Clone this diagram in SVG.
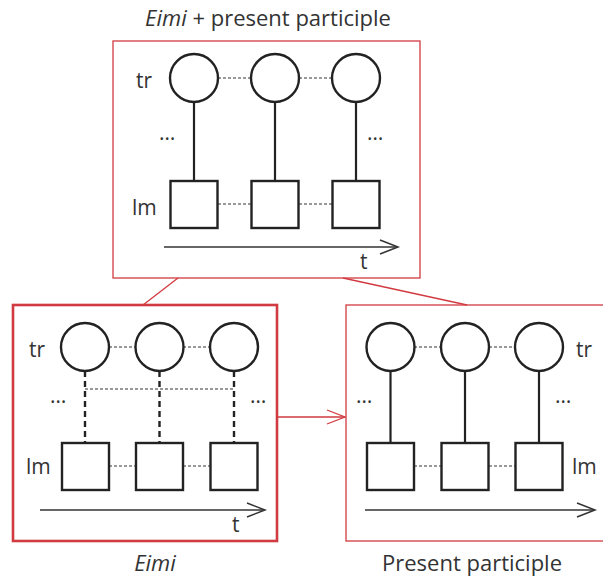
<svg xmlns="http://www.w3.org/2000/svg" width="603" height="578" viewBox="0 0 603 578">
<defs>
<style>
.txt{font-family:"Open Sans","Noto Sans",sans-serif;fill:#333;}
.lbl{font-size:21px;}
.cap{font-size:22px;}
.c{fill:#fff;stroke:#222;stroke-width:2.4;}
.sq{fill:#fff;stroke:#222;stroke-width:2.4;}
.dot{stroke:#333;stroke-width:1;stroke-dasharray:3 2;fill:none;}
.solid{stroke:#222;stroke-width:2.2;fill:none;}
.dash{stroke:#222;stroke-width:2.4;stroke-dasharray:6 4;fill:none;}
.axis{stroke:#333;stroke-width:1.5;fill:none;}
.red{stroke:#d13a40;fill:none;}
</style>
</defs>
<text class="txt cap" x="268" y="26" text-anchor="middle"><tspan font-style="italic">Eimi</tspan> + present participle</text>
<text class="txt cap" x="155" y="571" text-anchor="middle" font-style="italic">Eimi</text>
<text class="txt cap" x="472" y="571" text-anchor="middle">Present participle</text>

<g id="connectors">
<line class="red" x1="178" y1="278" x2="143" y2="305" stroke-width="1.3"/>
<line class="red" x1="343" y1="278" x2="467" y2="305" stroke-width="1.3"/>
<line class="red" x1="277" y1="417" x2="345" y2="417" stroke-width="1.3"/>
<polyline class="red" points="327,410 345,417 327,424" stroke-width="1.3"/>
</g>

<g id="top">
<rect class="red" x="113" y="41" width="307" height="237" stroke-width="1.3"/>
<line class="dot" x1="218" y1="78" x2="251" y2="78"/>
<line class="dot" x1="299" y1="78" x2="332" y2="78"/>
<line class="dot" x1="218" y1="204" x2="251" y2="204"/>
<line class="dot" x1="299" y1="204" x2="332" y2="204"/>
<line class="solid" x1="194" y1="102" x2="194" y2="181"/>
<line class="solid" x1="275" y1="102" x2="275" y2="181"/>
<line class="solid" x1="356" y1="102" x2="356" y2="181"/>
<circle class="c" cx="194" cy="78" r="24"/>
<circle class="c" cx="275" cy="78" r="24"/>
<circle class="c" cx="356" cy="78" r="24"/>
<rect class="sq" x="170.5" y="181" width="47" height="47"/>
<rect class="sq" x="251.5" y="181" width="47" height="47"/>
<rect class="sq" x="332.5" y="181" width="47" height="47"/>
<line class="axis" x1="164" y1="247" x2="397" y2="247"/>
<polyline class="axis" points="380,240 398,247 380,254"/>
<text class="txt lbl" x="136" y="88">tr</text>
<text class="txt lbl" x="132" y="215">lm</text>
<text class="txt lbl" x="159" y="140">…</text>
<text class="txt lbl" x="367" y="140">…</text>
<text class="txt lbl" x="360" y="269">t</text>
</g>

<g id="eimi">
<rect class="red" x="13" y="305" width="264" height="236" stroke-width="2.6"/>
<line class="dot" x1="109" y1="347" x2="136" y2="347"/>
<line class="dot" x1="183" y1="347" x2="210" y2="347"/>
<line class="dot" x1="85" y1="389" x2="234" y2="389"/>
<line class="dot" x1="109" y1="466" x2="136" y2="466"/>
<line class="dot" x1="183" y1="466" x2="210" y2="466"/>
<line class="dash" x1="85" y1="371" x2="85" y2="443"/>
<line class="dash" x1="159.5" y1="371" x2="159.5" y2="443"/>
<line class="dash" x1="234" y1="371" x2="234" y2="443"/>
<circle class="c" cx="85" cy="347" r="24"/>
<circle class="c" cx="159.5" cy="347" r="24"/>
<circle class="c" cx="234" cy="347" r="24"/>
<rect class="sq" x="62" y="443" width="47" height="47"/>
<rect class="sq" x="136" y="443" width="47" height="47"/>
<rect class="sq" x="210.5" y="443" width="47" height="47"/>
<line class="axis" x1="40" y1="510" x2="264" y2="510"/>
<polyline class="axis" points="247,503 265,510 247,517"/>
<text class="txt lbl" x="29" y="357">tr</text>
<text class="txt lbl" x="26" y="474">lm</text>
<text class="txt lbl" x="50" y="403">…</text>
<text class="txt lbl" x="250" y="403">…</text>
<text class="txt lbl" x="232" y="532">t</text>
</g>

<g id="participle">
<rect class="red" x="346" y="305" width="270" height="236" stroke-width="1.3"/>
<line class="dot" x1="414" y1="347" x2="441" y2="347"/>
<line class="dot" x1="489" y1="347" x2="515" y2="347"/>
<line class="dot" x1="414" y1="466" x2="441" y2="466"/>
<line class="dot" x1="489" y1="466" x2="515" y2="466"/>
<line class="solid" x1="390.5" y1="371" x2="390.5" y2="443"/>
<line class="solid" x1="465" y1="371" x2="465" y2="443"/>
<line class="solid" x1="539" y1="371" x2="539" y2="443"/>
<circle class="c" cx="390.5" cy="347" r="24"/>
<circle class="c" cx="465" cy="347" r="24"/>
<circle class="c" cx="539" cy="347" r="24"/>
<rect class="sq" x="367" y="443" width="47" height="47"/>
<rect class="sq" x="441.5" y="443" width="47" height="47"/>
<rect class="sq" x="515.5" y="443" width="47" height="47"/>
<line class="axis" x1="365" y1="510" x2="594" y2="510"/>
<polyline class="axis" points="577,503 595,510 577,517"/>
<text class="txt lbl" x="576" y="357">tr</text>
<text class="txt lbl" x="572" y="474">lm</text>
<text class="txt lbl" x="356" y="403">…</text>
<text class="txt lbl" x="555" y="403">…</text>
</g>
</svg>
